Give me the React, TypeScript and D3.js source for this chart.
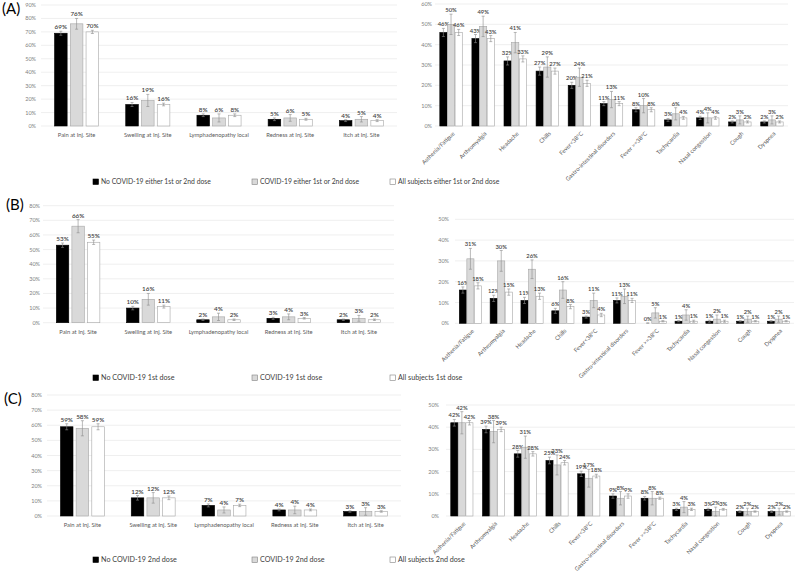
import * as d3 from 'd3';

const LOCAL_CATS = ['Pain at Inj. Site', 'Swelling at Inj. Site', 'Lymphadenopathy local', 'Redness at Inj. Site', 'Itch at Inj. Site'];
const SYSTEMIC_CATS = ['Asthenia/Fatigue', 'Arthromyalgia', 'Headache', 'Chills', 'Fever<38°C', 'Gastro-intestinal disorders', 'Fever >=38°C', 'Tachycardia', 'Nasal congestion', 'Cough', 'Dyspnea'];

// series order: no covid, covid, all subjects
const A_LOCAL = [[69, 16, 8, 5, 4], [76, 19, 6, 6, 5], [70, 16, 8, 5, 4]];
const A_LOCAL_ERR = [[1.5, 1.5, 1, 1, 0.7], [4, 4.5, 3, 2.5, 2], [1.2, 1, 1, 0.7, 0.7]];
const A_SYS = [
  [46, 43, 32, 27, 20, 11, 8, 3, 4, 2, 2],
  [50, 49, 41, 29, 24, 13, 10, 6, 4, 3, 3],
  [46, 43, 33, 27, 21, 11, 8, 4, 4, 2, 2],
];
const A_SYS_ERR = [
  [2, 2, 2, 2, 1.5, 1, 1, 0.7, 0.8, 0.5, 0.5],
  [5, 5, 5, 5, 4.5, 4, 3.5, 3, 2.5, 2, 2],
  [1.5, 1.5, 1.5, 1.5, 1.5, 1, 1, 0.7, 0.7, 0.5, 0.5],
];

const B_LOCAL = [[53, 10, 2, 3, 2], [66, 16, 4, 4, 3], [55, 11, 2, 3, 2]];
const B_LOCAL_ERR = [[1.5, 1.2, 0.5, 0.7, 0.5], [4.5, 4, 2.5, 2, 2], [1.5, 1, 0.5, 0.5, 0.5]];
const B_SYS = [
  [16, 12, 11, 6, 3, 11, 0, 1, 1, 1, 1],
  [31, 30, 26, 16, 11, 13, 5, 4, 2, 2, 2],
  [18, 15, 13, 8, 4, 11, 1, 1, 1, 1, 1],
];
const B_SYS_ERR = [
  [1.5, 1.5, 1.5, 1.2, 0.5, 1.2, 0.2, 0.3, 0.5, 0.3, 0.3],
  [5, 5, 4.5, 4, 3.5, 3.5, 2.5, 2.5, 2, 1.5, 1.5],
  [1.5, 1.5, 1.5, 1, 0.8, 1, 0.3, 0.5, 0.5, 0.3, 0.3],
];

const C_LOCAL = [[59, 12, 7, 4, 3], [58, 12, 4, 4, 3], [59, 12, 7, 4, 3]];
const C_LOCAL_ERR = [[2, 1.5, 1, 0.6, 0.5], [5, 3.5, 2, 2.5, 2.5], [2, 1.2, 0.8, 0.6, 0.5]];
const C_SYS = [
  [42, 39, 28, 25, 19, 9, 8, 3, 3, 2, 2],
  [42, 38, 31, 23, 17, 8, 8, 4, 2, 2, 2],
  [42, 39, 28, 24, 18, 9, 8, 3, 3, 2, 2],
];
const C_SYS_ERR = [
  [1.5, 1.5, 1.5, 1.5, 1.2, 1, 0.8, 0.5, 0.5, 0.4, 0.4],
  [5, 5, 5, 4.5, 4, 3, 3, 2.5, 2, 1.5, 1.5],
  [1, 1, 1, 1, 0.8, 1, 0.5, 0.5, 0.4, 0.3, 0.3],
];

const LEGEND_A = ['No COVID-19 either 1st or 2nd dose', 'COVID-19 either 1st or 2nd dose', 'All subjects either 1st or 2nd dose'];
const LEGEND_B = ['No COVID-19 1st dose', 'COVID-19 1st dose', 'All subjects 1st dose'];
const LEGEND_C = ['No COVID-19 2nd dose', 'COVID-19 2nd dose', 'All subjects 2nd dose'];

const FILLS = ['#000000', '#d9d9d9', '#ffffff'];
const STROKES = ['#000000', '#a6a6a6', '#a6a6a6'];
const FONT = "Lato, 'Liberation Sans', sans-serif";

interface PanelProps {
  x0: number; x1: number; y0: number; yTop: number; max: number;
  cats: string[]; values: number[][]; errors: number[][];
  rotated?: boolean; tickRight: number; groupRatio: number; barPad: number; labelSize: number;
}

function Panel({ x0, x1, y0, yTop, max, cats, values, errors, rotated, tickRight, groupRatio, barPad, labelSize }: PanelProps) {
  const y = d3.scaleLinear().domain([0, max]).range([y0, yTop]);
  const x = d3.scaleBand<string>().domain(cats).range([x0, x1]).padding(0);
  const bw = x.bandwidth();
  const gw = bw * groupRatio;
  const sub = d3.scaleBand<number>().domain([0, 1, 2]).range([(bw - gw) / 2, (bw + gw) / 2]).paddingInner(barPad);
  const ticks = d3.range(0, max + 1, 10);
  const barW = sub.bandwidth();

  return (
    <g>
      {ticks.map((t) => (
        <g key={t}>
          <line x1={x0} x2={x1} y1={y(t)} y2={y(t)} stroke="#e4e4e4" strokeWidth={0.6} />
          <text x={tickRight} y={y(t) + 2} textAnchor="end" fontSize={5.5} fill="#7f7f7f">{t}%</text>
        </g>
      ))}
      {cats.map((c, ci) => {
        const cx = x(c)! + bw / 2;
        return (
          <g key={c}>
            {values.map((vals, si) => {
              const v = vals[ci];
              const e = errors[si][ci];
              const bx = x(c)! + sub(si)!;
              const mid = bx + barW / 2;
              const top = y(v + e);
              const bot = y(Math.max(0, v - e));
              return (
                <g key={si}>
                  <rect x={bx} y={y(v)} width={barW} height={y0 - y(v)} fill={FILLS[si]} stroke={STROKES[si]} strokeWidth={0.6} />
                  <line x1={mid} x2={mid} y1={top} y2={bot} stroke="#8c8c8c" strokeWidth={0.6} />
                  <line x1={mid - 1.5} x2={mid + 1.5} y1={top} y2={top} stroke="#8c8c8c" strokeWidth={0.6} />
                  <line x1={mid - 1.5} x2={mid + 1.5} y1={bot} y2={bot} stroke="#8c8c8c" strokeWidth={0.6} />
                  <text x={mid} y={top - 2} textAnchor="middle" fontSize={labelSize} fontWeight={600} fill="#404040">{v}%</text>
                </g>
              );
            })}
            {rotated ? (
              <text transform={`translate(${cx + 4},${y0 + 8}) rotate(-45)`} textAnchor="end" fontSize={5.8} fill="#595959">{c}</text>
            ) : (
              <text x={cx} y={y0 + 11} textAnchor="middle" fontSize={5.8} fill="#595959">{c}</text>
            )}
          </g>
        );
      })}
    </g>
  );
}

function Legend({ y, labels, size }: { y: number; labels: string[]; size: number }) {
  const xs = [93, 252, 390];
  return (
    <g>
      {labels.map((l, i) => (
        <g key={l}>
          <rect x={xs[i]} y={y - 3} width={5.5} height={5.5} fill={FILLS[i]} stroke={i === 0 ? '#000' : '#808080'} strokeWidth={0.6} />
          <text x={xs[i] + 8} y={y + 2.3} fontSize={size} fill="#404040">{l}</text>
        </g>
      ))}
    </g>
  );
}

export default function App() {
  return (
    <svg width={798} height={578} style={{ position: 'absolute', left: 0, top: 0, fontFamily: FONT, background: '#fff' }}>
      <rect width={798} height={578} fill="#fff" />
      <text x={2} y={14} fontSize={15} fill="#000">(A)</text>
      <text x={6} y={210} fontSize={15} fill="#000">(B)</text>
      <text x={4} y={404} fontSize={15} fill="#000">(C)</text>

      <Panel x0={41} x1={397} y0={126} yTop={5} max={90} cats={LOCAL_CATS} values={A_LOCAL} errors={A_LOCAL_ERR} tickRight={36} groupRatio={0.62} barPad={0.2} labelSize={6.3} />
      <Panel x0={435} x1={788} y0={126} yTop={4} max={60} cats={SYSTEMIC_CATS} values={A_SYS} errors={A_SYS_ERR} rotated tickRight={432} groupRatio={0.7} barPad={0.06} labelSize={5.8} />
      <Legend y={182} labels={LEGEND_A} size={6.8} />

      <Panel x0={43} x1={394} y0={322.7} yTop={205.7} max={80} cats={LOCAL_CATS} values={B_LOCAL} errors={B_LOCAL_ERR} tickRight={40} groupRatio={0.62} barPad={0.2} labelSize={6.3} />
      <Panel x0={455} x1={794} y0={323.3} yTop={219.3} max={50} cats={SYSTEMIC_CATS} values={B_SYS} errors={B_SYS_ERR} rotated tickRight={449} groupRatio={0.72} barPad={0.06} labelSize={5.8} />
      <Legend y={378} labels={LEGEND_B} size={7.2} />

      <Panel x0={47} x1={401} y0={516} yTop={395} max={80} cats={LOCAL_CATS} values={C_LOCAL} errors={C_LOCAL_ERR} tickRight={42} groupRatio={0.62} barPad={0.2} labelSize={6.3} />
      <Panel x0={446} x1={795} y0={516} yTop={405} max={50} cats={SYSTEMIC_CATS} values={C_SYS} errors={C_SYS_ERR} rotated tickRight={439} groupRatio={0.7} barPad={0.06} labelSize={5.8} />
      <Legend y={560} labels={LEGEND_C} size={7.2} />
    </svg>
  );
}
